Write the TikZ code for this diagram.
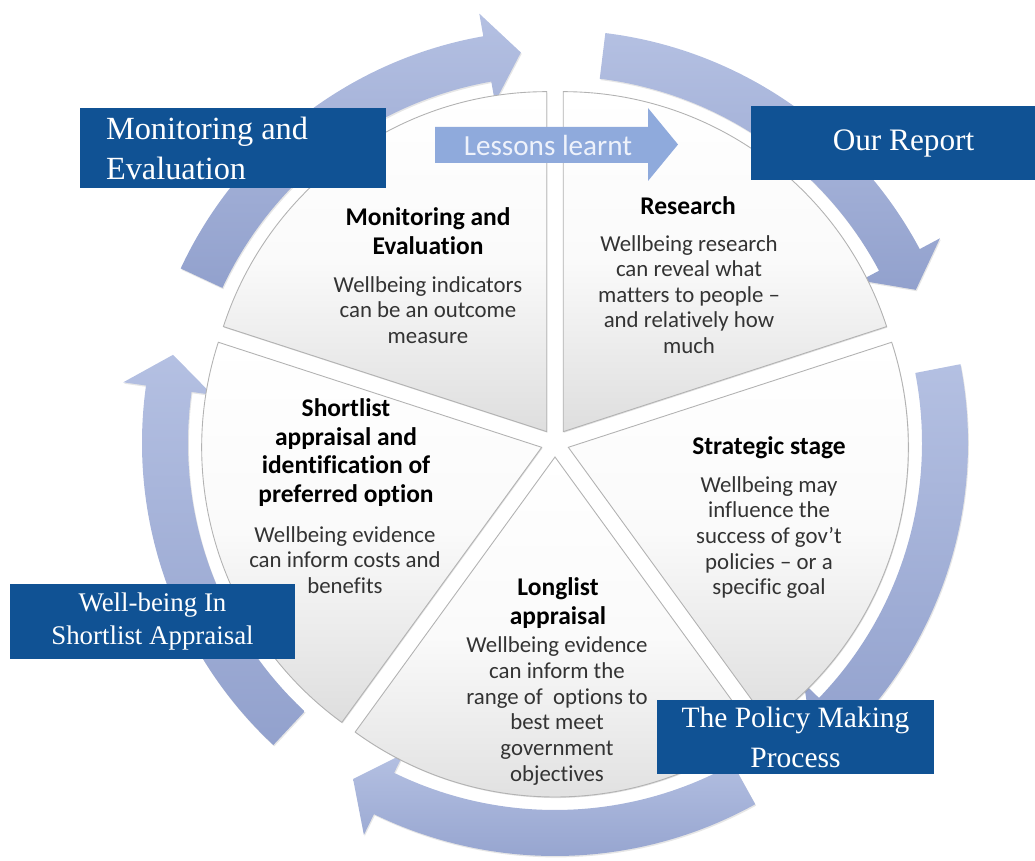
\documentclass[tikz,border=0pt]{standalone}
\usepackage{fontspec}
\setmainfont{Liberation Serif}
\setsansfont[Ligatures=NoCommon]{Carlito}
\usetikzlibrary{shapes,arrows,shadows,positioning,backgrounds,calc}
\definecolor{ringtop}{RGB}{180,192,226}
\definecolor{ringbot}{RGB}{146,161,205}
\definecolor{boxblue}{RGB}{16,82,148}
\definecolor{lessonblue}{RGB}{143,170,220}
\definecolor{lessontext}{RGB}{238,242,251}
\newcommand{\cx}{555}
\newcommand{\cy}{418}
% one piece of the pie, pushed out along its middle angle
\newcommand{\mslice}[2]{
  \coordinate (#2) at ($(\cx,\cy)+(#1:14)$);
  \shade[slice] (#2) -- ++({#1-36}:340)
    arc[start angle={#1-36}, end angle={#1+36}, radius=340] -- cycle;
}
% one curved arrow of the ring, from its tail angle clockwise
\newcommand{\marrow}[2]{
  \coordinate (#2) at ($(\cx,\cy)+({#1-60}:392)$);
  \shade[ring] ($(\cx,\cy)+(#1:367)$)
    arc[start angle=#1, end angle={#1-55}, radius=367]
    -- ($(\cx,\cy)+({#1-55}:346)$) -- (#2) -- ($(\cx,\cy)+({#1-55}:436)$)
    -- ($(\cx,\cy)+({#1-55}:413)$)
    arc[start angle={#1-55}, end angle=#1, radius=413] -- cycle;
}

\begin{document}
\begin{tikzpicture}[x=0.02cm,y=0.02cm,
  slice/.style={top color=white,bottom color=black!13,middle color=black!2,draw=black!30,line width=0.5pt,
    drop shadow={shadow xshift=0.4pt,shadow yshift=-0.6pt,opacity=0.25}},
  ring/.style={top color=ringtop,bottom color=ringbot,
    drop shadow={shadow xshift=0.5pt,shadow yshift=-0.8pt,opacity=0.2}},
  stitle/.style={font=\sffamily\bfseries\fontsize{14.5}{16.2}\selectfont,align=center},
  sbody/.style={font=\sffamily\fontsize{13}{14.6}\selectfont,align=center,text=black!80},
  pbox/.style={fill=boxblue,text=white,align=center,inner sep=0pt}]
  \useasboundingbox (0,0) rectangle (1035,861);

  \marrow{155}{t1}
  \marrow{83}{t2}
  \marrow{11}{t3}
  \marrow{-61}{t4}
  \marrow{-133}{t5}

  \mslice{126}{mon}
  \mslice{54}{res}
  \mslice{-18}{str}
  \mslice{-90}{lng}
  \mslice{198}{sht}

  \fill[lessonblue] (435,734) -- (648,734) -- (648,753) -- (678,716.5)
    -- (648,680) -- (648,698) -- (435,698) -- cycle;
  \node[font=\sffamily\fontsize{16.6}{18}\selectfont,text=lessontext] (lessons) at (548,716) {Lessons learnt};

  \node[stitle] (montitle) at (428,630) {Monitoring and\\Evaluation};
  \node[sbody] (monbody) at (428,551) {Wellbeing indicators\\can be an outcome\\measure};
  \node[stitle] (restitle) at (688,655) {Research};
  \node[sbody] (resbody) at (689,566.5) {Wellbeing research\\can reveal what\\matters to people --\\and relatively how\\much};
  \node[stitle] (strtitle) at (769,413) {Strategic stage};
  \node[sbody] (strbody) at (769,323.5) {Wellbeing may\\influence the\\success of gov’t\\policies -- or a\\specific goal};
  \node[stitle] (lngtitle) at (558,258) {Longlist\\appraisal};
  \node[sbody] (lngbody) at (557,150) {Wellbeing evidence\\can inform the\\range of\ \ options to\\best meet\\government\\objectives};
  \node[stitle] (shttitle) at (346,408.5) {Shortlist\\appraisal and\\identification of\\preferred option};
  \node[sbody] (shtbody) at (345,301) {Wellbeing evidence\\can inform costs and\\benefits};

  \node[pbox,align=flush left,minimum height=1.6cm,inner xsep=0.52cm,text width=5.08cm,
    font=\fontsize{18.4}{22.8}\selectfont] (monbox) at (233,713) {Monitoring and\\Evaluation};
  \node[pbox,minimum width=5.68cm,minimum height=1.48cm,
    font=\fontsize{17.8}{21}\selectfont] (repbox) at (893,718) {\hspace{12pt}Our Report};
  \node[pbox,minimum width=5.7cm,minimum height=1.5cm,
    font=\fontsize{15.3}{18.8}\selectfont] (wellbox) at (152.5,239.5) {Well-being In\\Shortlist Appraisal};
  \node[pbox,minimum width=5.54cm,minimum height=1.48cm,
    font=\fontsize{16.8}{22.8}\selectfont] (polbox) at (795.5,124) {The Policy Making\\Process};
\end{tikzpicture}
\end{document}
